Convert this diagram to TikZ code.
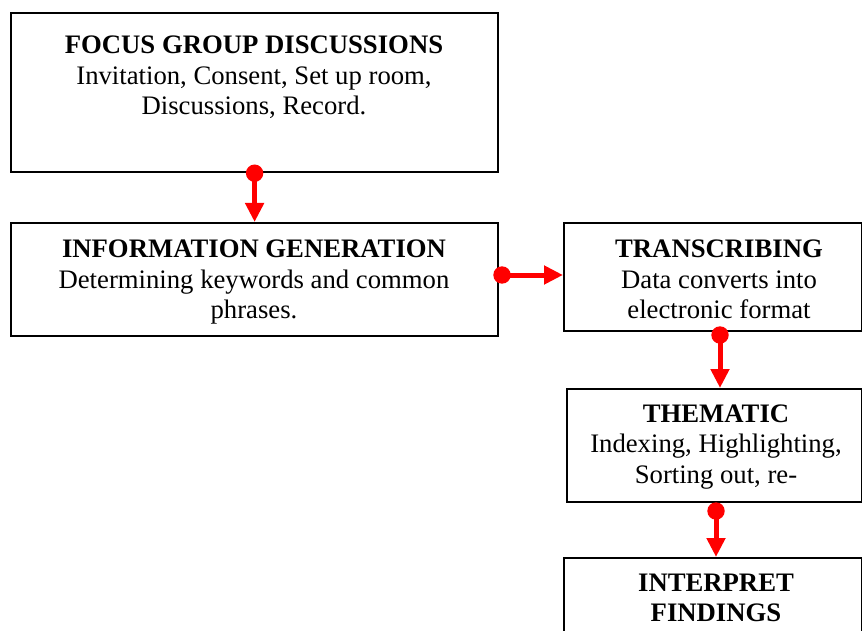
\documentclass[tikz,border=0pt]{standalone}
\usepackage{fontspec}
\setmainfont{Liberation Serif}
\usetikzlibrary{arrows.meta}
\begin{document}
\begin{tikzpicture}[x=1pt,y=-1pt,
  box/.style={draw=black, line width=2.2pt, inner sep=0pt, anchor=north west},
  ttl/.style={font=\fontsize{26.7}{31}\selectfont\bfseries, anchor=base, inner sep=0pt},
  txt/.style={font=\fontsize{26.7}{31}\selectfont, anchor=base, inner sep=0pt},
  conn/.style={draw=red, line width=5pt, -{Triangle[width=18pt,length=19pt]}},
  dotc/.style={fill=red}]
\useasboundingbox (0,0) rectangle (862,631);
% boxes
\node[box, minimum width=487pt, minimum height=159pt] (b1) at (10,12) {};
\node[box, minimum width=487pt, minimum height=113pt] (b2) at (10,222) {};
\node[box, minimum width=298pt, minimum height=108pt] (b3) at (563,222) {};
\node[box, minimum width=295pt, minimum height=113pt] (b4) at (566,388) {};
\node[box, minimum width=298pt, minimum height=110pt] (b5) at (563,557) {};
% texts
\node[ttl] (t1a) at (254,54) {FOCUS GROUP DISCUSSIONS};
\node[txt] (t1b) at (254,85) {Invitation, Consent, Set up room,};
\node[txt] (t1c) at (254,115) {Discussions, Record.};
\node[ttl] (t2a) at (254,257) {INFORMATION GENERATION};
\node[txt] (t2b) at (254,288) {Determining keywords and common};
\node[txt] (t2c) at (254,318) {phrases.};
\node[ttl] (t3a) at (719,257) {TRANSCRIBING};
\node[txt] (t3b) at (719,288) {Data converts into};
\node[txt] (t3c) at (719,318) {electronic format};
\node[ttl] (t4a) at (716,422) {THEMATIC};
\node[txt] (t4b) at (716,452) {Indexing, Highlighting,};
\node[txt] (t4c) at (716,483) {Sorting out, re-};
\node[ttl] (t5a) at (716,591) {INTERPRET};
\node[ttl] (t5b) at (716,621) {FINDINGS};
% connectors
\coordinate (d1) at (b1.south);
\coordinate (d2) at (502,275);
\coordinate (d3) at (720,335);
\coordinate (d4) at (716,511);
\draw[conn] (d1) -- (b2.north);
\draw[conn] (d2) -- (d2 -| b3.west);
\draw[conn] (d3) -- (d3 |- b4.north);
\draw[conn] (d4) -- (d4 |- b5.north);
\fill[dotc] (d1) circle (8.7pt);
\fill[dotc] (d2) circle (8.7pt);
\fill[dotc] (d3) circle (8.7pt);
\fill[dotc] (d4) circle (8.7pt);
\end{tikzpicture}
\end{document}
